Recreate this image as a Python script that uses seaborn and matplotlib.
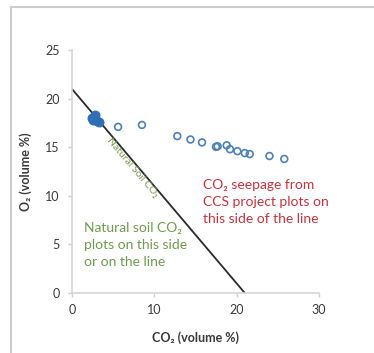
import matplotlib
matplotlib.use("Agg")
import matplotlib.pyplot as plt
import seaborn as sns
import pandas as pd
from matplotlib.lines import Line2D

sns.set_theme(style="white")
plt.rcParams['font.family'] = ['Lato', 'DejaVu Sans']

# open-circle measurements
co2_open = [5.6, 8.5, 12.8, 14.4, 15.8, 17.5, 17.7, 18.8, 19.2, 20.1, 21.0, 21.6, 24.0, 25.8]
o2_open = [17.1, 17.3, 16.15, 15.8, 15.5, 15.05, 15.1, 15.2, 14.8, 14.6, 14.4, 14.3, 14.1, 13.8]
# filled cluster near the line
co2_fill = [2.4, 2.6, 2.8, 3.0, 3.3, 2.7]
o2_fill = [18.0, 17.8, 18.3, 17.7, 17.6, 18.0]
# natural soil CO2 line endpoints
line_co2 = [0, 21]
line_o2 = [21, 0]

x_ticks = [0, 10, 20, 30]
y_ticks = [0, 5, 10, 15, 20, 25]

df_open = pd.DataFrame({"CO2": co2_open, "O2": o2_open})
df_fill = pd.DataFrame({"CO2": co2_fill, "O2": o2_fill})
df_line = pd.DataFrame({"CO2": line_co2, "O2": line_o2})

fig = plt.figure(figsize=(3.74, 3.53), dpi=100)
ax = fig.add_axes([0.1925, 0.170, 0.660, 0.688])

sns.lineplot(data=df_line, x="CO2", y="O2", ax=ax, color="#2a2a2a", linewidth=1.3)
sns.scatterplot(data=df_open, x="CO2", y="O2", ax=ax, marker="o", s=24,
                facecolors="none", edgecolor="#4d80b4", linewidth=1.2, zorder=3)
sns.scatterplot(data=df_fill, x="CO2", y="O2", ax=ax, marker="o", s=40,
                color="#2f6fb5", edgecolor="#2f6fb5", linewidth=0.8, zorder=4)

ax.set_xlim(0, 30)
ax.set_ylim(0, 25)
ax.set_xticks(x_ticks)
ax.set_yticks(y_ticks)
ax.tick_params(axis="both", labelsize=9, colors="#cfcfcf", labelcolor="#3a3a3a",
               length=3, width=1, direction="out", bottom=True, left=True)
ax.tick_params(axis="y", pad=6)
ax.tick_params(axis="x", pad=5)
for s in ["top", "right"]:
    ax.spines[s].set_visible(False)
for s in ["left", "bottom"]:
    ax.spines[s].set_color("#d6d6d6")
    ax.spines[s].set_linewidth(1.2)

ax.set_xlabel("CO₂ (volume %)", fontsize=9, fontweight="bold", color="#3a3a3a", labelpad=11)
ax.set_ylabel("O₂ (volume %)", fontsize=9, fontweight="bold", color="#3a3a3a", labelpad=9)

ax.text(1.45, 7.3, "Natural soil CO₂\nplots on this side\nor on the line", fontsize=10,
        color="#6f9a50", va="top", ha="left", linespacing=1.5)
ax.text(15.9, 11.7, "CO₂ seepage from\nCCS project plots on\nthis side of the line", fontsize=10,
        color="#c2343f", va="top", ha="left", linespacing=1.5)
ax.text(7.4, 12.9, "Natural Soil CO₂", fontsize=7.5, color="#7a9a50",
        rotation=-49.7, rotation_mode="anchor", ha="center", va="center")

# light frame around the picture
fig.add_artist(Line2D([11/374, 11/374], [0, 1 - 7/353], transform=fig.transFigure,
                      color="#cccccc", linewidth=1.5))
fig.add_artist(Line2D([11/374, 1], [1 - 7/353, 1 - 7/353], transform=fig.transFigure,
                      color="#cccccc", linewidth=1.5))

fig.savefig("out.png", dpi=100, facecolor="white")
